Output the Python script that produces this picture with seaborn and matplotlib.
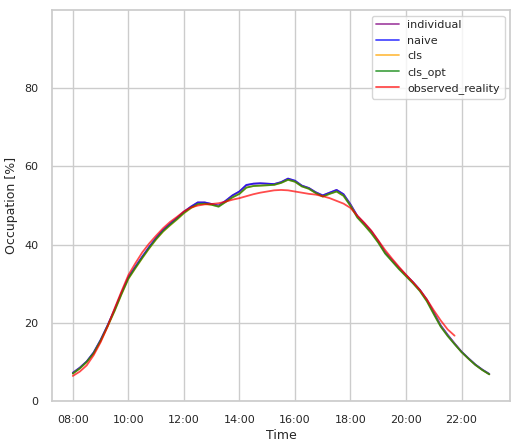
import numpy as np
import pandas as pd
import matplotlib
matplotlib.use("Agg")
import matplotlib.pyplot as plt
import matplotlib.dates as mdates
import seaborn as sns

# 15-minute steps from 08:00 to 23:00
times = pd.date_range("2024-01-01 08:00", "2024-01-01 23:00", freq="15min")

individual = [7.2, 8.5, 10.1, 12.4, 15.6, 19.3, 23.3, 27.6, 31.6, 34.3, 36.9, 39.4, 41.7, 43.7, 45.3, 46.8,
              48.4, 49.7, 50.8, 50.8, 50.4, 50.0, 51.2, 52.6, 53.6, 55.2, 55.6, 55.7, 55.6, 55.5, 56.0, 56.9,
              56.3, 55.1, 54.5, 53.4, 52.6, 53.3, 54.0, 52.9, 50.3, 47.3, 45.4, 43.4, 40.9, 38.0, 36.0, 34.0,
              32.2, 30.4, 28.4, 25.9, 22.6, 19.3, 16.9, 14.7, 12.6, 10.9, 9.3, 8.0, 6.9]
naive = [7.2, 8.5, 10.1, 12.4, 15.6, 19.3, 23.3, 27.6, 31.6, 34.3, 36.9, 39.4, 41.7, 43.7, 45.3, 46.8,
         48.4, 49.7, 50.8, 50.8, 50.4, 50.0, 51.2, 52.6, 53.6, 55.3, 55.6, 55.7, 55.6, 55.5, 56.0, 56.9,
         56.4, 55.1, 54.5, 53.4, 52.6, 53.3, 54.0, 52.9, 50.3, 47.3, 45.4, 43.4, 40.9, 38.0, 36.0, 34.0,
         32.2, 30.4, 28.4, 25.9, 22.6, 19.3, 16.9, 14.7, 12.6, 10.9, 9.3, 8.0, 6.9]
cls = [7.0, 8.3, 9.9, 12.1, 15.3, 19.0, 22.9, 27.2, 31.2, 33.9, 36.5, 39.0, 41.3, 43.3, 44.9, 46.4,
       48.0, 49.3, 50.3, 50.4, 50.2, 49.8, 50.9, 52.1, 53.0, 54.6, 55.0, 55.1, 55.2, 55.3, 55.8, 56.6,
       56.1, 54.9, 54.3, 53.2, 52.3, 53.0, 53.6, 52.5, 50.0, 47.0, 45.0, 43.0, 40.6, 37.8, 35.8, 33.8,
       32.0, 30.2, 28.2, 25.6, 22.3, 19.1, 16.7, 14.6, 12.5, 10.8, 9.2, 7.9, 6.8]
cls_opt = [7.0, 8.3, 10.0, 12.2, 15.4, 19.1, 23.0, 27.3, 31.3, 34.0, 36.6, 39.1, 41.4, 43.4, 45.0, 46.5,
           48.1, 49.4, 50.4, 50.5, 50.2, 49.7, 50.9, 52.1, 53.0, 54.6, 55.0, 55.1, 55.2, 55.3, 55.8, 56.6,
           56.1, 54.9, 54.3, 53.2, 52.3, 53.0, 53.6, 52.5, 49.9, 46.9, 45.0, 42.9, 40.5, 37.7, 35.7, 33.7,
           31.9, 30.1, 28.1, 25.5, 22.2, 19.0, 16.6, 14.5, 12.5, 10.8, 9.2, 7.9, 6.8]
observed_reality = [6.4, 7.5, 9.1, 11.7, 15.0, 19.0, 23.6, 28.0, 32.2, 35.2, 38.0, 40.3, 42.3, 44.2, 45.8, 47.1,
                    48.5, 49.5, 50.0, 50.3, 50.4, 50.6, 51.0, 51.5, 51.9, 52.4, 52.9, 53.3, 53.6, 53.9, 54.0, 53.9,
                    53.6, 53.3, 53.0, 52.8, 52.4, 51.9, 51.2, 50.5, 49.4, 47.4, 45.6, 43.6, 41.1, 38.6, 36.4, 34.3,
                    32.3, 30.4, 28.4, 26.0, 23.2, 20.6, 18.3, 16.7]

series = {
    "individual": individual,
    "naive": naive,
    "cls": cls,
    "cls_opt": cls_opt,
    "observed_reality": observed_reality,
}
palette = {"individual": "purple", "naive": "blue", "cls": "orange",
           "cls_opt": "green", "observed_reality": "red"}

frames = []
for name, vals in series.items():
    frames.append(pd.DataFrame({"Time": times[:len(vals)], "Occupation [%]": vals, "method": name}))
df = pd.concat(frames, ignore_index=True)

sns.set_theme(style="whitegrid")
plt.rcParams["font.family"] = ["DejaVu Sans"]

fig = plt.figure(figsize=(5.2, 4.44), dpi=100)
ax = fig.add_axes([0.1, 0.097, 0.881, 0.88])
sns.lineplot(data=df, x="Time", y="Occupation [%]", hue="method", palette=palette,
             alpha=0.7, linewidth=1.3, ax=ax)

ax.set_ylim(0, 100)
ax.set_yticks([0, 20, 40, 60, 80])
ax.xaxis.set_major_formatter(mdates.DateFormatter("%H:%M"))
ax.xaxis.set_major_locator(mdates.HourLocator(byhour=range(8, 24, 2)))
ax.tick_params(labelsize=8, pad=4)
ax.set_xlabel("Time", fontsize=9, labelpad=3)
ax.set_ylabel("Occupation [%]", fontsize=9, labelpad=4)
leg = ax.legend(loc="upper right", fontsize=8, title=None)

fig.savefig("out.png", dpi=100)
